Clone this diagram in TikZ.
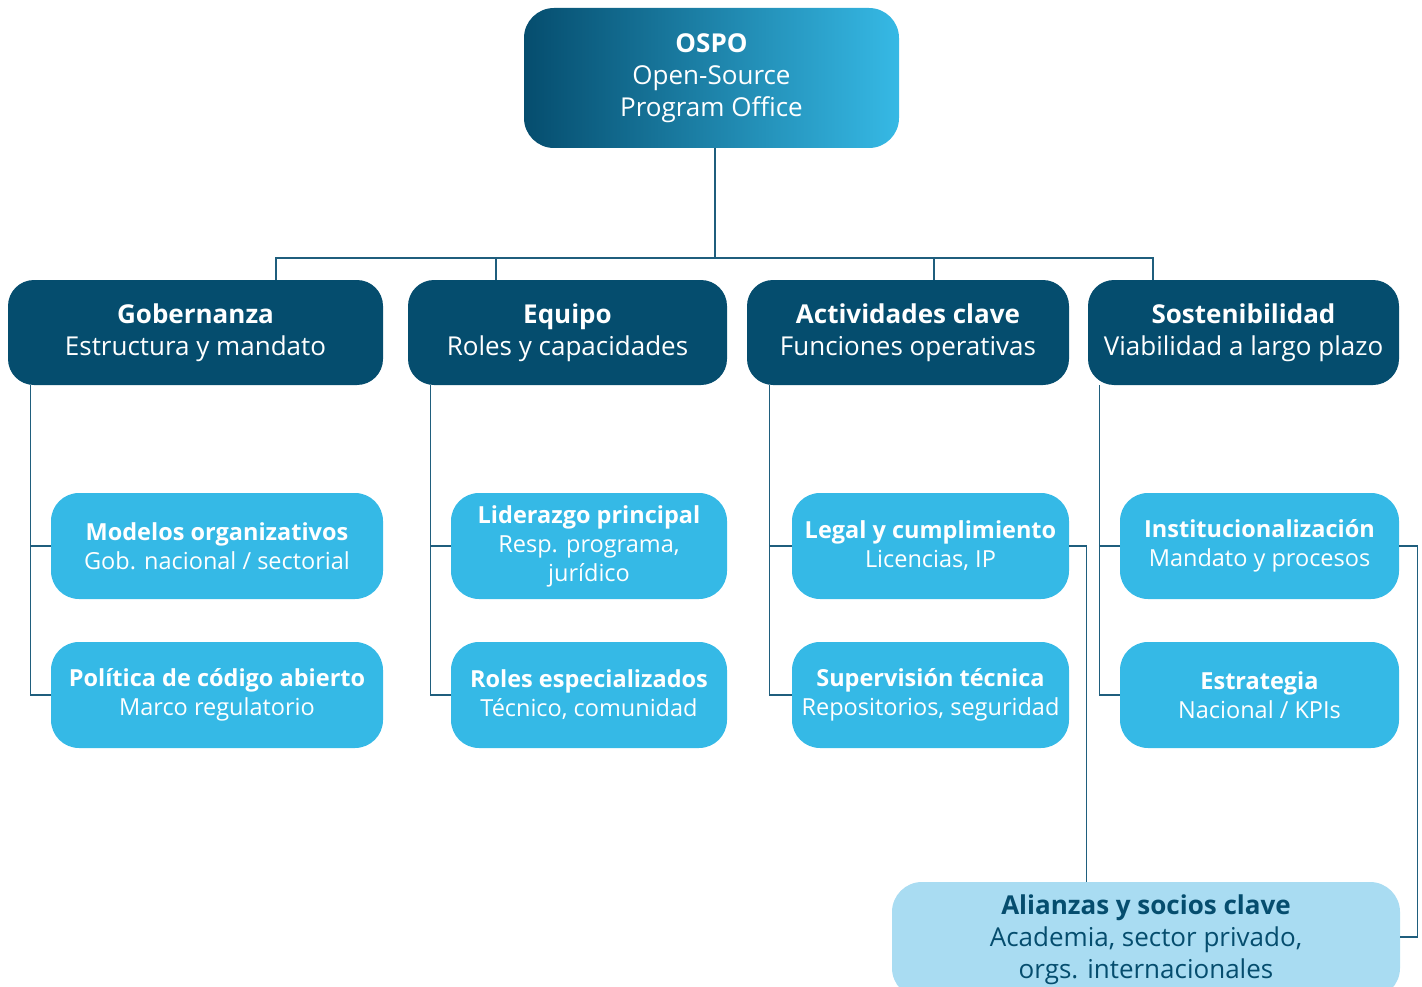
\documentclass[tikz,border=0pt]{standalone}
\usepackage{fontspec}
\setmainfont{Open Sans}
\definecolor{ospodark}{HTML}{054D6E}
\definecolor{ospolight}{HTML}{36B9E5}
\definecolor{itemblue}{HTML}{35B9E6}
\definecolor{partnerblue}{HTML}{A9DCF2}
\definecolor{linkblue}{HTML}{1F5E7D}

\begin{document}
\begin{tikzpicture}[x=1pt,y=-1pt,
    root/.style={rounded corners=30pt, left color=ospodark, right color=ospolight,
      text=white, align=center, minimum width=375pt, minimum height=140pt, inner sep=0pt,
      font=\fontsize{26}{32}\selectfont},
    pillar/.style={rounded corners=26pt, fill=ospodark, text=white, align=center,
      minimum height=105pt, inner sep=0pt, font=\fontsize{26}{32}\selectfont},
    item/.style={rounded corners=28pt, fill=itemblue, text=white, align=center,
      minimum height=106pt, inner sep=0pt, font=\fontsize{23.5}{29}\selectfont},
    partner/.style={rounded corners=30pt, fill=partnerblue, text=ospodark, align=center,
      minimum width=508pt, minimum height=116pt, inner sep=0pt,
      font=\fontsize{26}{32}\selectfont},
    link/.style={draw=linkblue, line width=1.3pt}]
  \useasboundingbox (0,0) rectangle (1422,987);
  \clip (0,0) rectangle (1422,987);

  % top
  \node[root] (ospo) at (711.5,78) {\textbf{OSPO}\\Open-Source\\Program Office};

  % pillars
  \node[pillar, minimum width=375pt] (gob) at (195.5,332.5) {\textbf{Gobernanza}\\Estructura y mandato};
  \node[pillar, minimum width=319pt] (equ) at (567.5,332.5) {\textbf{Equipo}\\Roles y capacidades};
  \node[pillar, minimum width=322pt] (act) at (908,332.5) {\textbf{Actividades clave}\\Funciones operativas};
  \node[pillar, minimum width=311pt] (sos) at (1243.5,332.5) {\textbf{Sostenibilidad}\\Viabilidad a largo plazo};

  % items
  \node[item, minimum width=332pt] (mod) at (217,546) {\textbf{Modelos organizativos}\\Gob. nacional / sectorial};
  \node[item, minimum width=332pt] (pol) at (217,695) {\textbf{Política de código abierto}\\Marco regulatorio};
  \node[item, minimum width=276pt] (lid) at (589,546) {\textbf{Liderazgo principal}\\Resp. programa,\\jurídico};
  \node[item, minimum width=276pt] (rol) at (589,695) {\textbf{Roles especializados}\\Técnico, comunidad};
  \node[item, minimum width=277pt] (leg) at (930.5,546) {\textbf{Legal y cumplimiento}\\Licencias, IP};
  \node[item, minimum width=277pt] (sup) at (930.5,695) {\textbf{Supervisión técnica}\\Repositorios, seguridad};
  \node[item, minimum width=279pt] (ins) at (1259.5,546) {\textbf{Institucionalización}\\Mandato y procesos};
  \node[item, minimum width=279pt] (est) at (1259.5,695) {\textbf{Estrategia}\\Nacional / KPIs};

  \node[partner] (ali) at (1146,940) {\textbf{Alianzas y socios clave}\\Academia, sector privado,\\orgs. internacionales};

  % tree
  \coordinate (bus) at (715,258);
  \coordinate (gobin) at (276,280);
  \coordinate (equin) at (496,280);
  \coordinate (actin) at (934,280);
  \coordinate (sosin) at (1153,280);
  \draw[link] (ospo.south -| bus) -- (bus);
  \draw[link] (bus) -| (gobin);
  \draw[link] (bus) -| (equin);
  \draw[link] (bus) -| (actin);
  \draw[link] (bus) -| (sosin);

  \draw[link] ([xshift=23pt]gob.south west) |- (mod.west);
  \draw[link] ([xshift=23pt]gob.south west) |- (pol.west);
  \draw[link] ([xshift=23pt]equ.south west) |- (lid.west);
  \draw[link] ([xshift=23pt]equ.south west) |- (rol.west);
  \draw[link] ([xshift=23pt]act.south west) |- (leg.west);
  \draw[link] ([xshift=23pt]act.south west) |- (sup.west);
  \draw[link] ([xshift=12pt]sos.south west) |- (ins.west);
  \draw[link] ([xshift=12pt]sos.south west) |- (est.west);

  \draw[link] (leg.east) -| ([xshift=195pt]ali.north west);
  \draw[link] (ins.east) -- ++(18,0) |- ([yshift=3pt]ali.east);
\end{tikzpicture}
\end{document}
